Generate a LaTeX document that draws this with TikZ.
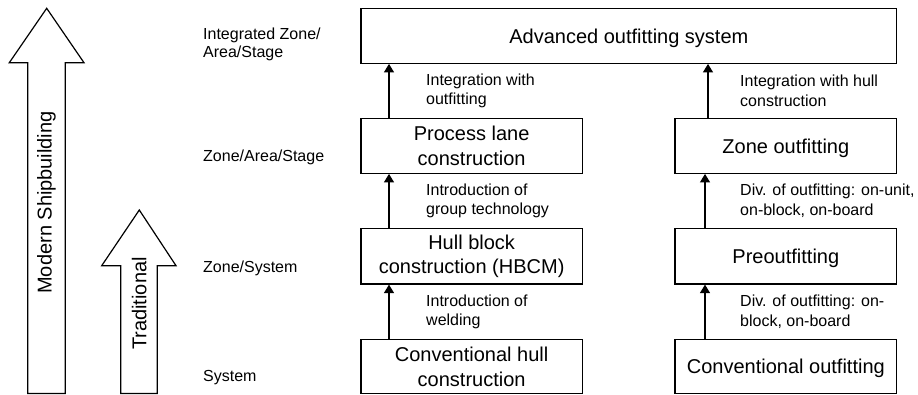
\documentclass[tikz,border=0pt]{standalone}
\usepackage{fontspec}
\setmainfont{Liberation Sans}
\usetikzlibrary{arrows.meta}
\begin{document}
\begin{tikzpicture}[x=1pt,y=-1pt,
  box/.style={draw,line width=1.2pt,inner sep=0pt,align=center,
    font=\fontsize{20}{24.5}\selectfont},
  onebox/.style={box,text depth=0pt},
  note/.style={inner sep=0pt,anchor=west,align=left,
    font=\fontsize{16}{19.5}\selectfont},
  level/.style={inner sep=0pt,align=left,
    font=\fontsize{16}{17.5}\selectfont},
  flow/.style={line width=1.2pt,-{Triangle[length=8.5pt,width=10pt]}},
  bigarrow/.style={draw,line width=1.2pt,line join=miter},
  bigtext/.style={rotate=90,inner sep=0pt,font=\fontsize{20}{24}\selectfont}]
\useasboundingbox (0,0) rectangle (918,394);

% hollow development arrows on the left
\draw[bigarrow] (27.7,393.5) -- (27.7,62.7) -- (9.3,62.7) -- (46.7,8.3)
  -- (84,62.7) -- (65.3,62.7) -- (65.3,393.5) -- cycle;
\node[bigtext] (modern) at (46.5,202.5) {Modern Shipbuilding};
\draw[bigarrow] (120.7,393.5) -- (120.7,265.7) -- (101.7,265.7) -- (139.3,210)
  -- (176,265.7) -- (157.3,265.7) -- (157.3,393.5) -- cycle;
\node[bigtext] (trad) at (139.3,303.5) {Traditional};

% level labels
\node[level,anchor=west] (lv4) at (203,44.5) {Integrated Zone/\\Area/Stage};
\node[level,anchor=base west] (lv3) at (203,161) {Zone/Area/Stage};
\node[level,anchor=base west] (lv2) at (203,272.3) {Zone/System};
\node[level,anchor=base west] (lv1) at (203,381.7) {System};

% boxes
\node[onebox,minimum width=535.7pt,minimum height=55pt] (adv) at (628.85,35.8)
  {Advanced outfitting system};
\node[box,minimum width=221.3pt,minimum height=55pt] (plc) at (471.65,145.8)
  {Process lane\\construction};
\node[box,minimum width=221.3pt,minimum height=55.7pt] (hbc) at (471.65,256.15)
  {Hull block\\construction (HBCM)};
\node[box,minimum width=221.3pt,minimum height=53.8pt] (chc) at (471.65,366.6)
  {Conventional hull\\construction};
\node[onebox,minimum width=221.7pt,minimum height=55pt] (zo) at (785.85,145.8)
  {Zone outfitting};
\node[onebox,minimum width=221.7pt,minimum height=55.7pt] (pre) at (785.85,256.15)
  {Preoutfitting};
\node[onebox,minimum width=221.7pt,minimum height=53.8pt] (co) at (785.85,366.6)
  {Conventional outfitting};

% connector columns
\coordinate (lx) at (389,0);
\coordinate (rxa) at (708,0);
\coordinate (rxb) at (705,0);

% connectors
\draw[flow] (chc.north -| lx) -- (hbc.south -| lx);
\draw[flow] (hbc.north -| lx) -- (plc.south -| lx);
\draw[flow] (plc.north -| lx) -- (adv.south -| lx);
\draw[flow] (co.north -| rxb) -- (pre.south -| rxb);
\draw[flow] (pre.north -| rxb) -- (zo.south -| rxb);
\draw[flow] (zo.north -| rxa) -- (adv.south -| rxa);

% connector labels
\node[note] (n1) at (426,90.8) {Integration with\\outfitting};
\node[note] (n2) at (426,200.8) {Introduction of\\group technology};
\node[note] (n3) at (426,311.8) {Introduction of\\welding};
\node[note] (n4) at (740,90.8) {Integration with hull\\construction};
\node[note] (n5) at (740,200.8) {Div. of outfitting: on-unit,\\on-block, on-board};
\node[note] (n6) at (740,311.8) {Div. of outfitting: on-\\block, on-board};
\end{tikzpicture}
\end{document}
